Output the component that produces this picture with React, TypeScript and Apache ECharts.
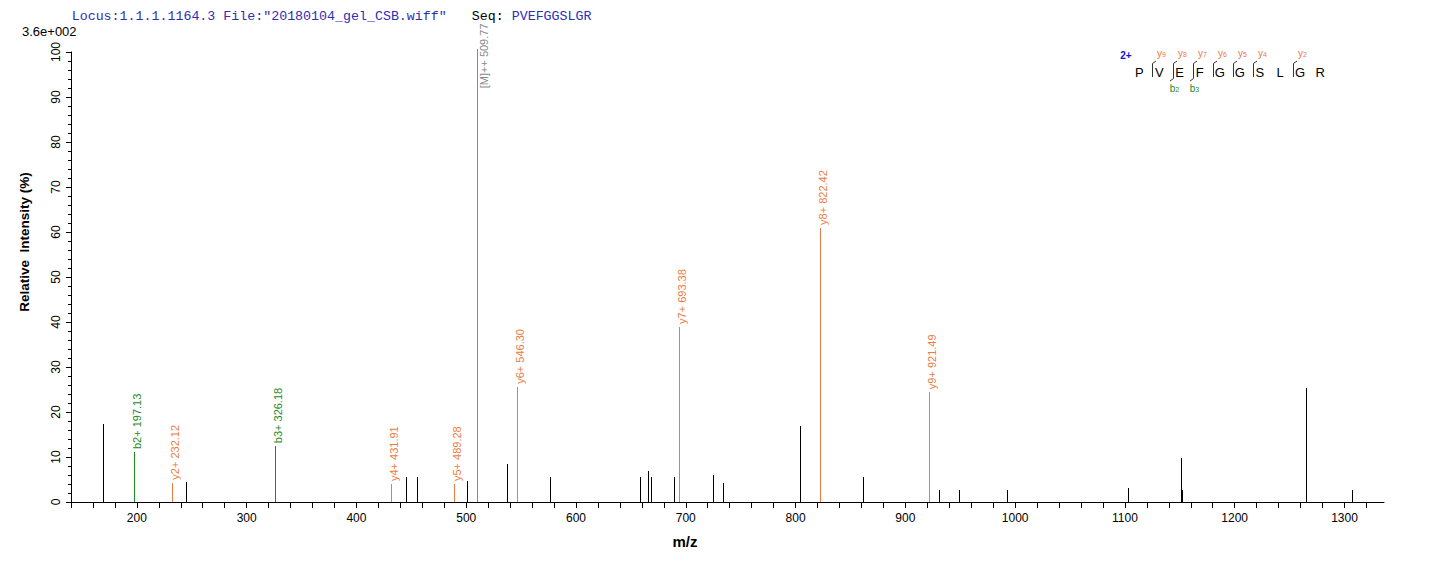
import React, { useEffect, useRef } from 'react';
import * as echarts from 'echarts';

// ---------- texts ----------
const titleLocus = 'Locus:1.1.1.1164.3 File:"20180104_gel_CSB.wiff"';
const seqLabel = 'Seq:';
const seqText = 'PVEFGGSLGR';
const scaleLabel = '3.6e+002';
const xAxisName = 'm/z';
const yAxisName = 'Relative  Intensity (%)';

// ---------- axes ----------
const xMin = 140;
const xMax = 1336;
const xTickStep = 20;
const xLabelValues = [200, 300, 400, 500, 600, 700, 800, 900, 1000, 1100, 1200, 1300];
const yMin = 0;
const yMax = 100;
const yTickStep = 10;

// ---------- peaks ----------
const otherMz = [168.9, 244.5, 445.1, 455.5, 500.7, 537.5, 576.4, 658.4, 665.7, 668.4, 689.4, 724.9, 734.0, 804.2, 861.7, 930.9, 949.1, 992.9, 1103.2, 1151.5, 1152.3, 1264.6, 1306.5];
const otherIntensity = [17.4, 4.5, 5.6, 5.6, 4.7, 8.4, 5.6, 5.6, 6.9, 5.6, 5.6, 6.0, 4.2, 16.9, 5.6, 2.7, 2.7, 2.7, 3.1, 9.8, 2.7, 25.3, 2.7];

const bMz = [197.13, 326.18];
const bIntensity = [11.1, 12.4];
const bLabels = ['b2+ 197.13', 'b3+ 326.18'];

const yMz = [232.12, 431.91, 489.28, 546.30, 693.38, 822.42, 921.49];
const yIntensity = [4.3, 4.0, 4.0, 25.6, 38.9, 60.9, 24.4];
const yLabels = ['y2+ 232.12', 'y4+ 431.91', 'y5+ 489.28', 'y6+ 546.30', 'y7+ 693.38', 'y8+ 822.42', 'y9+ 921.49'];

const precursorMz = [509.77];
const precursorIntensity = [100.6];
const precursorLabels = ['[M]++ 509.77'];

// ---------- sequence annotation ----------
const residues = ['P', 'V', 'E', 'F', 'G', 'G', 'S', 'L', 'G', 'R'];
const chargeLabel = '2+';
const observedY = [9, 8, 7, 6, 5, 4, 2];
const observedB = [2, 3];

const COLOR_Y = '#EC7B3F';
const COLOR_B = '#1E8A1E';
const COLOR_M = '#8A8A8A';
const COLOR_TITLE = '#2E2EB4';
const SANS = '"Liberation Sans", Arial, sans-serif';
const MONO = '"Liberation Mono", "Courier New", monospace';

function makeRender(color: string, labels: string[] | null, beside: boolean) {
  return (params: any, api: any) => {
    const mz = api.value(0);
    const inten = api.value(1);
    const base = api.coord([mz, 0]);
    const top = api.coord([mz, inten]);
    const x = Math.round(base[0]) + 0.5;
    const children: any[] = [
      {
        type: 'line',
        shape: { x1: x, y1: Math.round(base[1]), x2: x, y2: Math.round(top[1]) },
        style: { stroke: color, lineWidth: 1 },
        silent: true,
      },
    ];
    const label = labels ? labels[params.dataIndex] : null;
    if (label) {
      children.push({
        type: 'text',
        x: beside ? x + 6 : x + 2,
        y: beside ? top[1] + 39 : top[1] - 3,
        rotation: Math.PI / 2,
        silent: true,
        style: {
          text: label,
          fill: color,
          font: '11px ' + SANS,
          align: 'left',
          verticalAlign: 'middle',
        },
      });
    }
    return { type: 'group', children };
  };
}

function buildSequenceGraphics() {
  const g: any[] = [];
  const x0 = 1139.3;
  const step = 20.1;
  const letterY = 72;
  const n = residues.length;
  g.push({
    type: 'text', x: 1126, y: 55,
    style: { text: chargeLabel, fill: '#1010D0', font: 'bold 10px ' + SANS, align: 'center', verticalAlign: 'middle' },
  });
  residues.forEach((r, i) => {
    g.push({
      type: 'text', x: x0 + i * step, y: letterY,
      style: { text: r, fill: '#000', font: '13px ' + SANS, align: 'center', verticalAlign: 'middle' },
    });
  });
  for (let k = 1; k < n; k++) {
    const hasY = observedY.includes(n - k);
    const hasB = observedB.includes(k);
    if (!hasY && !hasB) continue;
    const mx = Math.round(x0 + k * step - 7) + 0.5;
    const pts: number[][] = [];
    if (hasY) { pts.push([mx + 3.5, 61]); pts.push([mx, 63.5]); } else { pts.push([mx, 63]); }
    if (hasB) { pts.push([mx, 78.5]); pts.push([mx - 3.5, 81]); } else { pts.push([mx, 77]); }
    g.push({ type: 'polyline', shape: { points: pts }, style: { stroke: '#333', lineWidth: 1, fill: null } });
    if (hasY) {
      g.push({
        type: 'text', x: mx + 9, y: 53,
        style: {
          text: '{a|y}{s|' + (n - k) + '}', align: 'center', verticalAlign: 'middle',
          rich: {
            a: { fill: COLOR_Y, font: '10px ' + SANS },
            s: { fill: COLOR_Y, font: '7px ' + SANS, padding: [3, 0, 0, 0] },
          },
        },
      });
    }
    if (hasB) {
      g.push({
        type: 'text', x: mx + 1, y: 88,
        style: {
          text: '{a|b}{s|' + k + '}', align: 'center', verticalAlign: 'middle',
          rich: {
            a: { fill: COLOR_B, font: '10px ' + SANS },
            s: { fill: COLOR_B, font: '7px ' + SANS, padding: [3, 0, 0, 0] },
          },
        },
      });
    }
  }
  return g;
}

export default function App() {
  const ref = useRef<HTMLDivElement>(null);
  useEffect(() => {
    if (!ref.current) return;
    const chart = echarts.init(ref.current, undefined, { renderer: 'svg' });
    const xTicks: number[] = [];
    for (let v = xMin; v <= xMax; v += xTickStep) xTicks.push(v);

    const option: any = {
      animation: false,
      backgroundColor: '#fff',
      textStyle: { fontFamily: SANS },
      grid: { left: 71, right: 52, top: 52, bottom: 60, containLabel: false, outerBoundsMode: 'none' },
      xAxis: {
        type: 'value',
        min: xMin,
        max: xMax,
        interval: xTickStep,
        axisLine: { show: true, onZero: false, lineStyle: { color: '#000', width: 1 } },
        axisTick: { show: true, length: 6, customValues: xTicks, lineStyle: { color: '#000', width: 1 } },
        axisLabel: {
          show: true, customValues: xLabelValues, margin: 10, color: '#000', fontSize: 12, fontFamily: SANS,
          formatter: (v: number) => String(v),
        },
        splitLine: { show: false },
      },
      yAxis: {
        type: 'value',
        min: yMin,
        max: yMax,
        interval: yTickStep,
        axisLine: { show: true, lineStyle: { color: '#000', width: 1 } },
        axisTick: { show: true, length: 5, lineStyle: { color: '#000', width: 1 } },
        minorTick: { show: true, splitNumber: 5, length: 3, lineStyle: { color: '#000', width: 1 } },
        axisLabel: {
          show: true, rotate: 90, margin: 9, color: '#000', fontSize: 12, fontFamily: SANS,
          formatter: (v: number) => String(v),
        },
        splitLine: { show: false },
      },
      series: [
        {
          type: 'custom', clip: false, renderItem: makeRender('#000', null, false),
          data: otherMz.map((m, i) => [m, otherIntensity[i]]), encode: { x: 0, y: 1 },
        },
        {
          type: 'custom', clip: false, renderItem: makeRender(COLOR_M, precursorLabels, true),
          data: precursorMz.map((m, i) => [m, precursorIntensity[i]]), encode: { x: 0, y: 1 },
        },
        {
          type: 'custom', clip: false, renderItem: makeRender(COLOR_B, bLabels, false),
          data: bMz.map((m, i) => [m, bIntensity[i]]), encode: { x: 0, y: 1 },
        },
        {
          type: 'custom', clip: false, renderItem: makeRender(COLOR_Y, yLabels, false),
          data: yMz.map((m, i) => [m, yIntensity[i]]), encode: { x: 0, y: 1 },
        },
      ],
      graphic: [
        {
          type: 'text', x: 71.7, y: 16,
          style: { text: titleLocus, fill: COLOR_TITLE, font: '13.3px ' + MONO, align: 'left', verticalAlign: 'middle' },
        },
        {
          type: 'text', x: 471.7, y: 16,
          style: { text: seqLabel, fill: '#000', font: '13.3px ' + MONO, align: 'left', verticalAlign: 'middle' },
        },
        {
          type: 'text', x: 511.7, y: 16,
          style: { text: seqText, fill: COLOR_TITLE, font: '13.3px ' + MONO, align: 'left', verticalAlign: 'middle' },
        },
        {
          type: 'text', x: 22, y: 31,
          style: { text: scaleLabel, fill: '#000', font: '13px ' + SANS, align: 'left', verticalAlign: 'middle' },
        },
        {
          type: 'text', x: 24, y: 242, rotation: Math.PI / 2,
          style: { text: yAxisName, fill: '#000', font: 'bold 13.5px ' + SANS, align: 'center', verticalAlign: 'middle' },
        },
        {
          type: 'text', x: 685, y: 541,
          style: { text: xAxisName, fill: '#000', font: 'bold 15px ' + SANS, align: 'center', verticalAlign: 'middle' },
        },
        ...buildSequenceGraphics(),
      ],
    };
    chart.setOption(option);
    return () => chart.dispose();
  }, []);
  return (
    <div
      ref={ref}
      style={{ position: 'absolute', left: 0, top: 0, width: 1436, height: 562, background: '#fff' }}
    />
  );
}
